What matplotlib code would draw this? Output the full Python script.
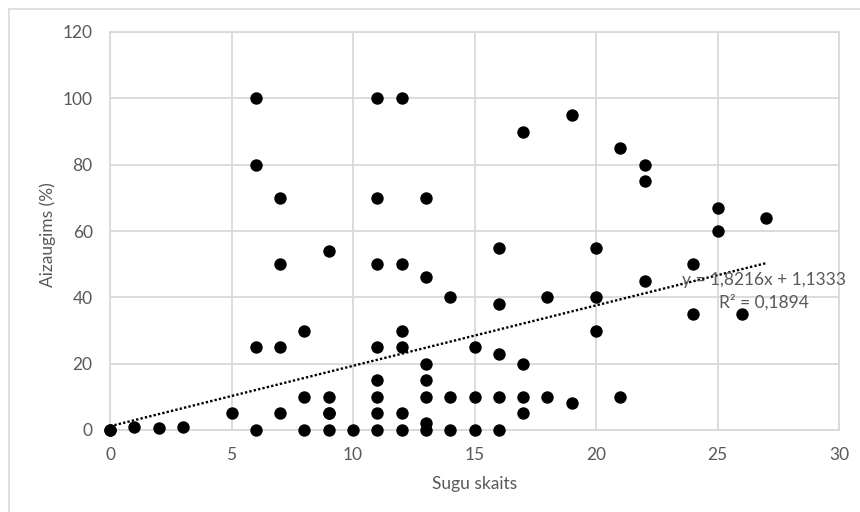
import numpy as np
import matplotlib
matplotlib.use("Agg")
import matplotlib.pyplot as plt
from matplotlib.lines import Line2D

# ---------- Data ----------
species = [0, 0, 1, 2, 3, 5,
           6, 6, 6, 6,
           7, 7, 7, 7,
           8, 8, 8,
           9, 9, 9, 9, 9,
           10,
           11, 11, 11, 11, 11, 11, 11, 11,
           12, 12, 12, 12, 12, 12,
           13, 13, 13, 13, 13, 13, 13,
           14, 14, 14,
           15, 15, 15,
           16, 16, 16, 16, 16,
           17, 17, 17, 17,
           18, 18,
           19, 19,
           20, 20, 20,
           21, 21,
           22, 22, 22,
           24, 24,
           25, 25,
           26, 27]
overgrowth = [0, 0, 1, 0.5, 1, 5,
              100, 80, 25, 0,
              70, 50, 25, 5,
              30, 10, 0,
              54, 10, 5, 5, 0,
              0,
              100, 70, 50, 25, 15, 10, 5, 0,
              100, 50, 30, 25, 5, 0,
              70, 46, 20, 15, 10, 2, 0,
              40, 10, 0,
              25, 10, 0,
              55, 38, 23, 10, 0,
              90, 20, 10, 5,
              40, 10,
              95, 8,
              55, 40, 30,
              85, 10,
              80, 75, 45,
              50, 35,
              67, 60,
              35, 64]

# trend line as reported on the chart
slope = 1.8216
intercept = 1.1333

TEXT = "#595959"
GRID = "#d9d9d9"
FS = 12.5

plt.rcParams['font.family'] = ['Lato', 'DejaVu Sans']

fig = plt.figure(figsize=(8.6, 5.12), dpi=100)
ax = fig.add_axes([110 / 860, 1 - 430 / 512, 729 / 860, 398 / 512])

# chart frame (only the top and left edges are inside the crop)
top = 1 - 8.5 / 512
left = 8.5 / 860
fig.lines.append(Line2D([left, 1], [top, top], transform=fig.transFigure,
                        color=GRID, linewidth=1.2))
fig.lines.append(Line2D([left, left], [0, top], transform=fig.transFigure,
                        color=GRID, linewidth=1.2))

ax.scatter(species, overgrowth, s=80, color="black", zorder=3,
           linewidths=0, clip_on=False)

xs = np.array([0, max(species)])
ax.plot(xs, slope * xs + intercept, color="black", linestyle=(0, (1, 0.9)),
        linewidth=1.7, zorder=4)

ax.text(26.9, 45.2, "y = 1,8216x + 1,1333", color=TEXT, fontsize=FS,
        ha="center", va="center", zorder=5)
ax.text(26.9, 38.6, "R² = 0,1894", color=TEXT, fontsize=FS,
        ha="center", va="center", zorder=5)

ax.set_xlim(0, 30)
ax.set_ylim(0, 120)
ax.set_xticks(range(0, 31, 5))
ax.set_yticks(range(0, 121, 20))
ax.grid(True, color=GRID, linewidth=1.3)
ax.set_axisbelow(True)
for sp in ax.spines.values():
    sp.set_color(GRID)
    sp.set_linewidth(1.3)
ax.tick_params(axis="y", length=0, colors=TEXT, labelsize=FS, pad=12.5)
ax.tick_params(axis="x", length=0, colors=TEXT, labelsize=FS, pad=12)

ax.set_xlabel("Sugu skaits", color=TEXT, fontsize=FS)
ax.set_ylabel("Aizaugims (%)", color=TEXT, fontsize=FS)
ax.xaxis.set_label_coords(0.5, (430 - 484) / 398)
ax.yaxis.set_label_coords((48 - 110) / 729, 0.49)
ax.xaxis.label.set_va("center")
ax.yaxis.label.set_va("center")

fig.savefig("out.png", dpi=100)
